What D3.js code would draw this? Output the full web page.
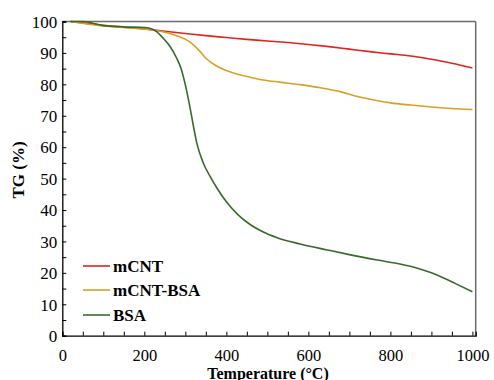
<!DOCTYPE html>
<html><head><meta charset="utf-8">
<script src="https://cdn.jsdelivr.net/npm/d3@7"></script>
<style>body{margin:0;background:#fff}svg{display:block}</style>
</head><body><svg id="c" width="494" height="380"></svg>
<script>
const xTicks=[0,200,400,600,800,1000];
const yTicks=[0,10,20,30,40,50,60,70,80,90,100];
const seriesNames=["mCNT","mCNT-BSA","BSA"];
const mCNT_T=[20,60,100,150,200,250,300,350,400,450,500,550,600,650,700,750,800,850,900,950,1000];
const mCNT_V=[100,99.4,98.8,98.2,97.6,96.9,96.2,95.5,94.9,94.3,93.8,93.3,92.7,92.0,91.2,90.4,89.7,89.0,88.0,86.7,85.2];
const mix_T=[20,60,100,150,200,250,280,310,330,350,375,400,430,460,490,530,580,630,680,720,760,800,850,900,950,1000];
const mix_V=[100,99.2,98.6,98.1,97.6,96.6,95.4,93.6,91.3,88.3,85.9,84.4,83.1,82.2,81.4,80.7,79.9,78.9,77.6,76.1,75.0,74.1,73.4,72.8,72.3,72.0];
const bsa_T=[20,50,80,100,150,200,215,230,246,262,279,290,299,311,320,328,344,360,377,400,430,458,490,524,580,646,700,768,820,866,900,931,960,1000];
const bsa_V=[100,100,99.3,98.7,98.3,98.1,97.8,96.8,94.7,92.2,88.3,84.9,80.4,72.9,66.5,61.3,54.9,50.8,47.0,42.6,38.3,35.4,33.0,31.2,29.2,27.3,25.8,24.1,22.9,21.5,20.0,18.3,16.5,14.0];
const colors=["#e3231f","#d8a026","#3a6a2b"];
const FONT='Liberation Serif';

const svg=d3.select("#c");
const L=62.3,R=475.7,T=21.5,B=335.7;
const x=d3.scaleLinear().domain([0,1008]).range([L,R]);
const y=d3.scaleLinear().domain([0,100]).range([B,T]);

svg.append("line").attr("x1",L).attr("x2",R).attr("y1",T).attr("y2",T).attr("stroke","#6b6b6b").attr("stroke-width",1.5);
svg.append("line").attr("x1",R).attr("x2",R).attr("y1",T).attr("y2",B).attr("stroke","#6b6b6b").attr("stroke-width",1.5);

const xa=svg.append("g").attr("transform",`translate(0,${B})`)
  .call(d3.axisBottom(x).tickValues(d3.range(0,1001,50)).tickSize(-4).tickFormat(d=>xTicks.includes(d)?d:""));
const ya=svg.append("g").attr("transform",`translate(${L},0)`)
  .call(d3.axisLeft(y).tickValues(d3.range(0,101,5)).tickSize(-4).tickFormat(d=>yTicks.includes(d)?d:""));
[xa,ya].forEach(g=>{
  g.attr("font-family",null);
  g.select(".domain").attr("stroke","#000").attr("stroke-width",1.3);
  g.selectAll(".tick line").attr("stroke","#000").attr("stroke-width",1);
  g.selectAll(".tick text").attr("fill","#000").style("font-family",FONT).style("font-size","17px");
});
xa.selectAll(".tick text").attr("y",0).attr("dy","25px").style("font-size","16.5px");
ya.selectAll(".tick text").attr("x",-5).attr("dy","0.34em");

const line=d3.line().x(d=>x(d[0])).y(d=>y(d[1])).curve(d3.curveMonotoneX);
const data=[[mCNT_T,mCNT_V],[mix_T,mix_V],[bsa_T,bsa_V]];
data.forEach((s,i)=>{
  svg.append("path").datum(s[0].map((t,j)=>[t,s[1][j]]))
    .attr("d",line).attr("fill","none").attr("stroke",colors[i]).attr("stroke-width",1.6);
});

const ly=[266,290,315];
seriesNames.forEach((n,i)=>{
  svg.append("line").attr("x1",83).attr("x2",110).attr("y1",ly[i]).attr("y2",ly[i]).attr("stroke",colors[i]).attr("stroke-width",1.6);
  svg.append("text").attr("x",113).attr("y",ly[i]+6).text(n).style("font-family",FONT).style("font-size","17px").style("font-weight","bold");
});

svg.append("text").attr("x",268).attr("y",378.5).attr("text-anchor","middle").text("Temperature (°C)").style("font-family",FONT).style("font-size","16px").style("font-weight","bold");
svg.append("text").attr("transform","translate(24,170) rotate(-90)").attr("text-anchor","middle").text("TG (%)").style("font-family",FONT).style("font-size","17px").style("font-weight","bold");
</script></body></html>
